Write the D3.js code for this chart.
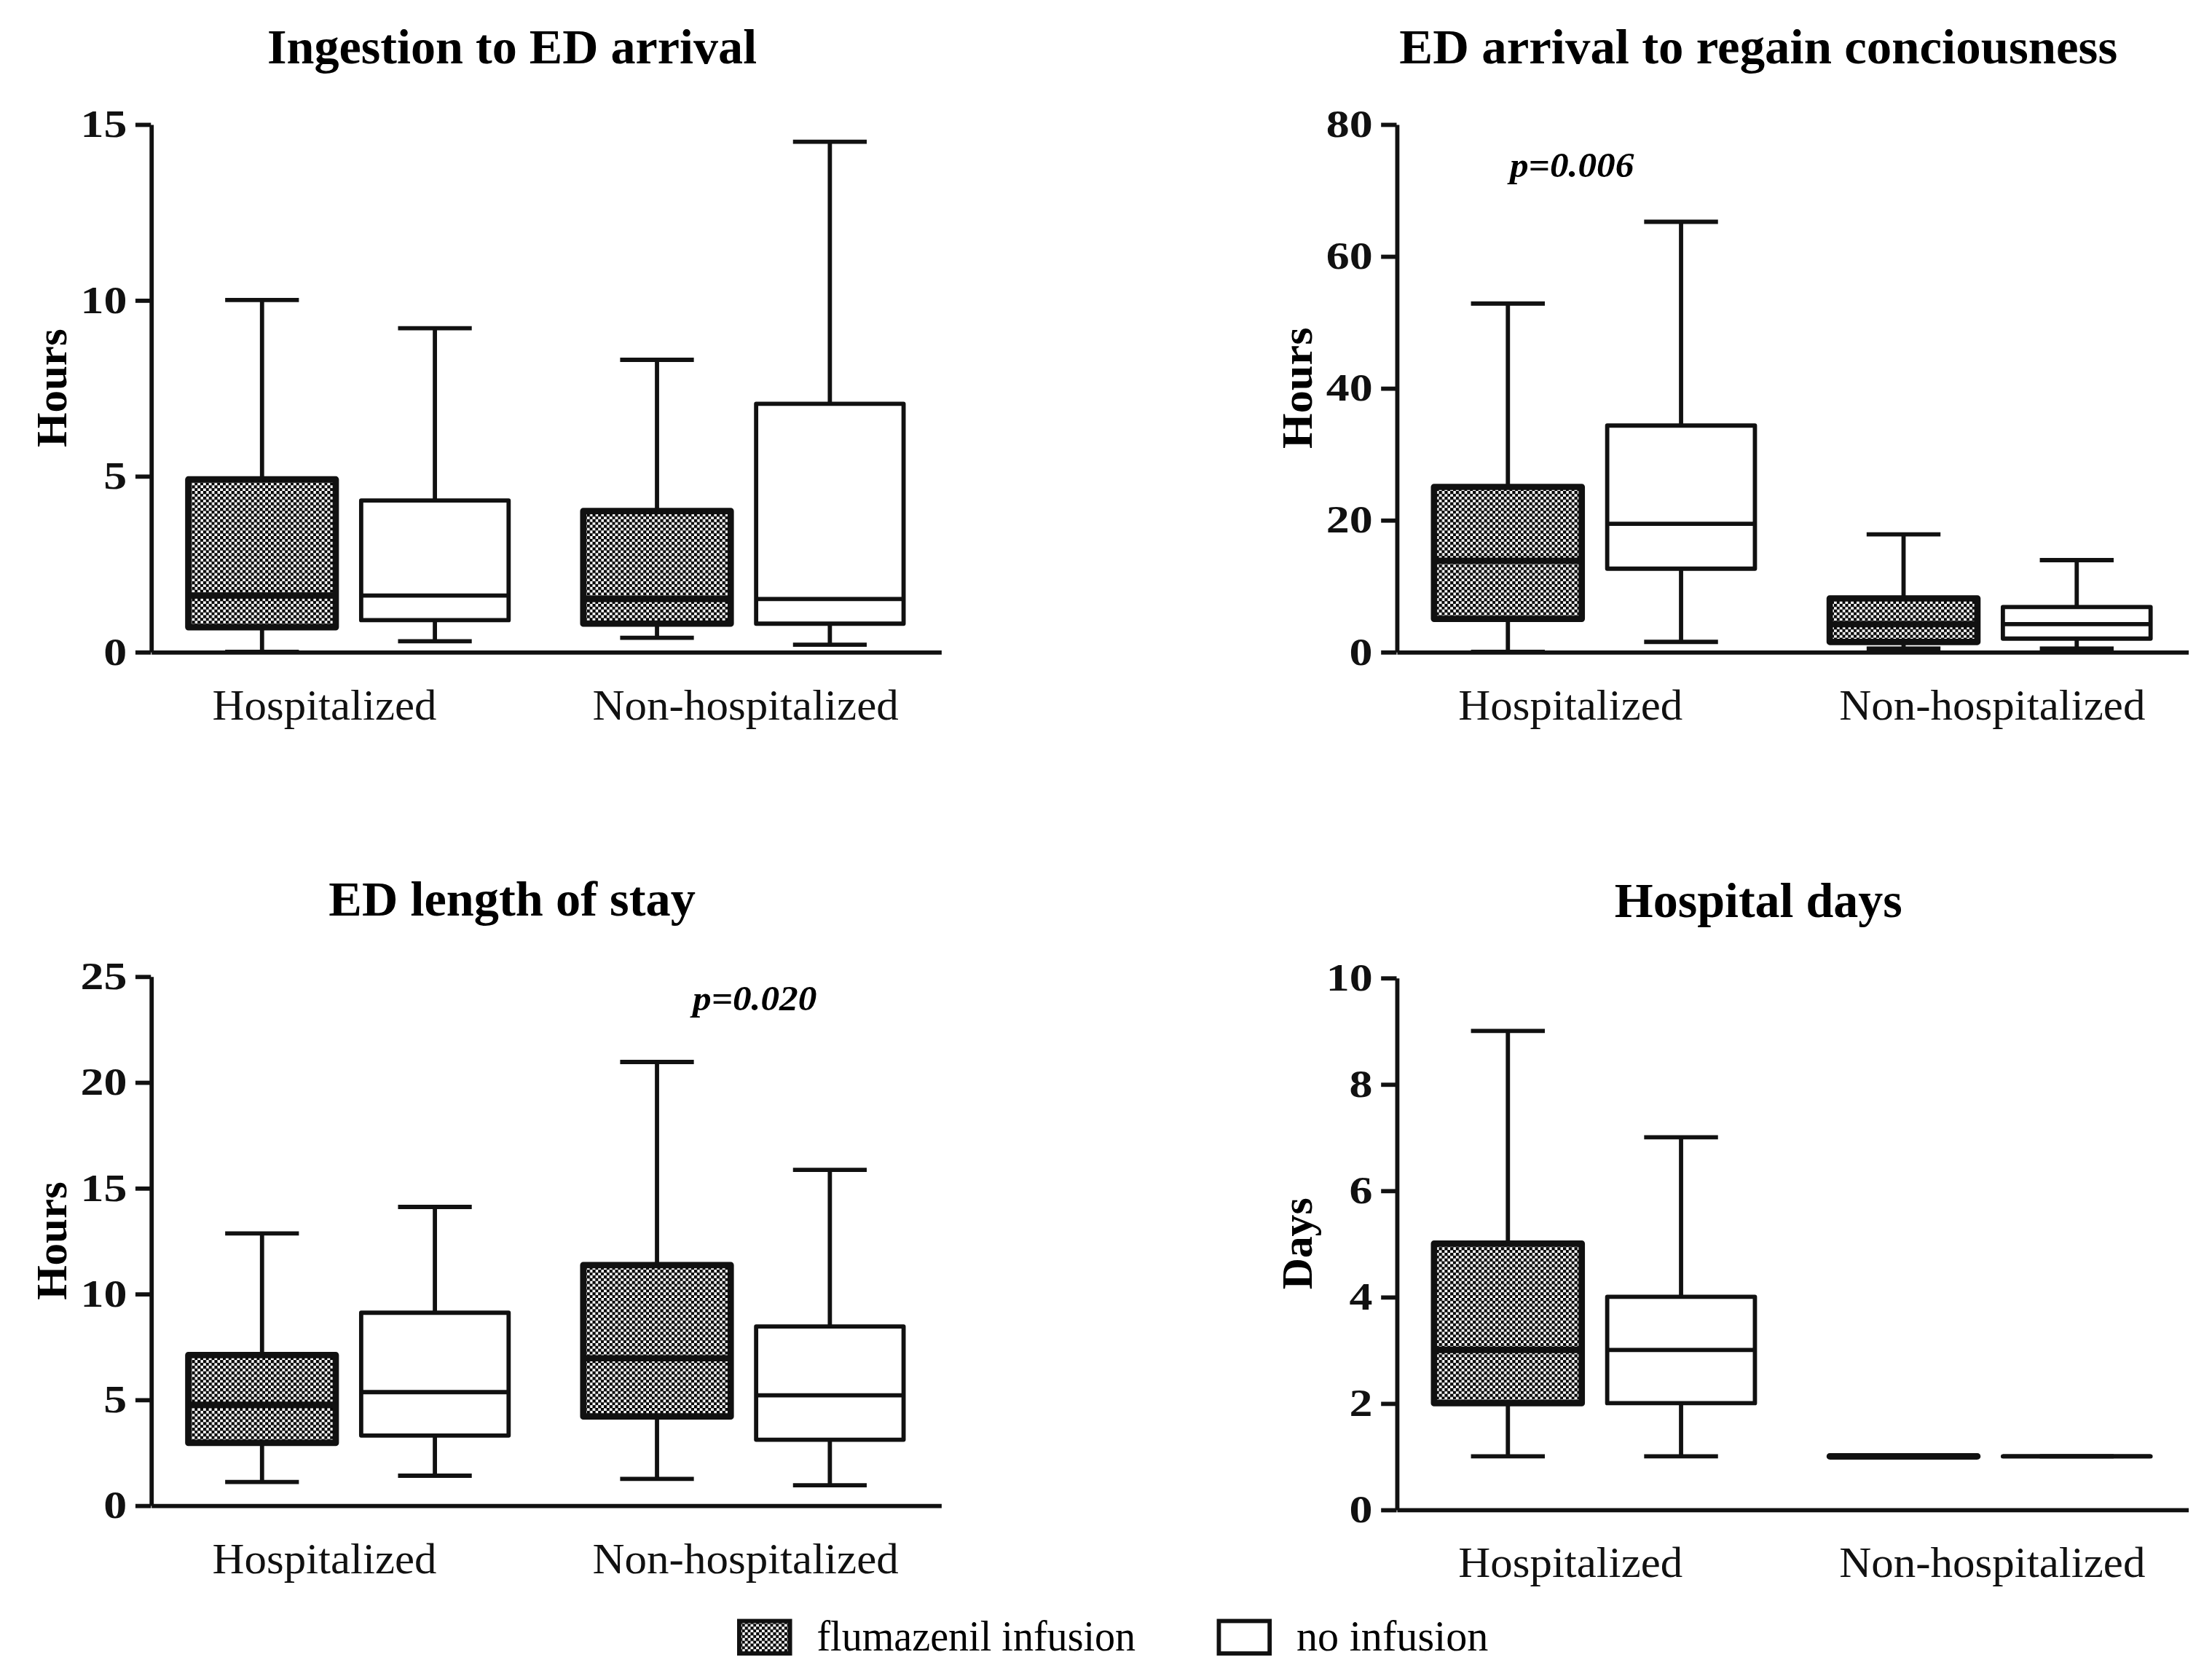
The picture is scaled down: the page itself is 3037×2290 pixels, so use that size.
<!DOCTYPE html>
<html>
<head>
<meta charset="utf-8">
<script src="https://cdn.jsdelivr.net/npm/d3@7"></script>
<style>
  body { margin: 0; background: #fff; }
  svg { display: block; }
</style>
</head>
<body>
<svg id="fig"></svg>
<script>
// categories / series
var groups = ['Hospitalized', 'Non-hospitalized'];
var series = ['flumazenil infusion', 'no infusion'];

// panel text
var titles = ['Ingestion to ED arrival', 'ED arrival to regain conciousness', 'ED length of stay', 'Hospital days'];
var yLabels = ['Hours', 'Hours', 'Hours', 'Days'];
var yMax = [15, 80, 25, 10];
var yTicks = [[0, 5, 10, 15], [0, 20, 40, 60, 80], [0, 5, 10, 15, 20, 25], [0, 2, 4, 6, 8, 10]];

// box stats: [min, q1, median, q3, max], order H-flum, H-none, NH-flum, NH-none
var ingestion = [[0, 0.7, 1.6, 4.9, 10], [0.3, 0.9, 1.6, 4.3, 9.2], [0.4, 0.8, 1.5, 4.0, 8.3], [0.2, 0.8, 1.5, 7.05, 14.5]];
var regain = [[0, 5, 13.8, 25, 52.8], [1.5, 12.6, 19.4, 34.3, 65.2], [0.5, 1.5, 4.2, 8.1, 17.8], [0.5, 2, 4.2, 6.8, 13.9]];
var edStay = [[1.1, 2.95, 4.75, 7.1, 12.85], [1.4, 3.3, 5.35, 9.1, 14.1], [1.25, 4.2, 6.95, 11.35, 20.95], [0.95, 3.1, 5.2, 8.45, 15.85]];
var hospDays = [[1, 2, 3, 5, 9], [1, 2, 3, 4, 7], [1, 1, 1, 1, 1], [1, 1, 1, 1, 1]];
var allStats = [ingestion, regain, edStay, hospDays];

// p-value annotations: text, group, height in data units
var pText = [null, 'p=0.006', 'p=0.020', null];
var pGroup = [null, 'Hospitalized', 'Non-hospitalized', null];
var pAt = [null, 72, 23.4, null];

var W = 1568, H = 1182.3;
var serif = '"Liberation Serif", "Times New Roman", serif';

var svg = d3.select('#fig')
    .attr('width', 3037)
    .attr('height', 2290)
    .attr('viewBox', '0 0 ' + W + ' ' + H);

// checker fill for flumazenil boxes
var pat = svg.append('defs').append('pattern')
    .attr('id', 'checker')
    .attr('width', 4).attr('height', 4)
    .attr('patternUnits', 'userSpaceOnUse');
pat.append('rect').attr('width', 4).attr('height', 4).attr('fill', '#fff');
pat.append('rect').attr('width', 2.2).attr('height', 2.2).attr('fill', '#000');
pat.append('rect').attr('x', 2).attr('y', 2).attr('width', 2.2).attr('height', 2.2).attr('fill', '#000');

// axis frames for the four panels
var frames = [
    {left: 107, right: 667, top: 88, bottom: 462},
    {left: 990, right: 1551, top: 88, bottom: 462},
    {left: 107, right: 667, top: 692, bottom: 1067},
    {left: 990, right: 1551, top: 693, bottom: 1070}
];

var titleLen = [347, 509, 260, 204];
var yLabLen = [84, 86, 84, 65];
var groupLabLen = [159, 217];
var labelNudge = [-17, 1.5];

frames.forEach(function(f, pi) {
    var g = svg.append('g');
    var stats = allStats[pi];

    var ys = d3.scaleLinear().domain([0, yMax[pi]]).range([f.bottom, f.top]);
    var x0 = d3.scaleBand().domain(groups).range([f.left, f.right])
        .paddingInner(0.189).paddingOuter(0.0946);
    var x1 = d3.scaleBand().domain(series).range([0, x0.bandwidth()])
        .paddingInner(0.147).paddingOuter(0);
    var bw = x1.bandwidth();

    var boxes = stats.map(function(s, i) {
        return {grp: groups[Math.floor(i / 2)], ser: series[i % 2], s: s};
    });
    var bx = function(d) { return x0(d.grp) + x1(d.ser); };
    var cx = function(d) { return bx(d) + bw / 2; };

    // whiskers
    g.selectAll('.whi')
        .data(boxes)
        .enter()
        .append('path')
        .attr('d', function(d) {
            return 'M' + cx(d) + ',' + ys(d.s[3]) + 'V' + ys(d.s[4]) +
                'M' + cx(d) + ',' + ys(d.s[1]) + 'V' + ys(d.s[0]) +
                'M' + (cx(d) - bw / 4) + ',' + ys(d.s[4]) + 'H' + (cx(d) + bw / 4) +
                'M' + (cx(d) - bw / 4) + ',' + ys(d.s[0]) + 'H' + (cx(d) + bw / 4);
        })
        .attr('fill', 'none')
        .attr('stroke', '#111')
        .attr('stroke-width', 3);

    // boxes (paths so zero-height boxes still draw)
    g.selectAll('.box')
        .data(boxes)
        .enter()
        .append('path')
        .attr('d', function(d) {
            return 'M' + bx(d) + ',' + ys(d.s[3]) + 'H' + (bx(d) + bw) +
                'V' + ys(d.s[1]) + 'H' + bx(d) + 'Z';
        })
        .attr('fill', function(d) { return d.ser === series[0] ? 'url(#checker)' : '#fff'; })
        .attr('stroke', '#111')
        .attr('stroke-linejoin', 'round')
        .attr('stroke-width', function(d) { return d.ser === series[0] ? 4.5 : 3; });

    // medians
    g.selectAll('.med')
        .data(boxes)
        .enter()
        .append('line')
        .attr('x1', bx)
        .attr('x2', function(d) { return bx(d) + bw; })
        .attr('y1', function(d) { return ys(d.s[2]); })
        .attr('y2', function(d) { return ys(d.s[2]); })
        .attr('stroke', '#111')
        .attr('stroke-width', function(d) { return d.ser === series[0] ? 4.5 : 3; });

    // y axis
    var ya = g.append('g')
        .attr('transform', 'translate(' + f.left + ',0)')
        .call(d3.axisLeft(ys).tickValues(yTicks[pi]).tickSize(11).tickSizeOuter(0).tickPadding(6));
    ya.selectAll('path, line').attr('stroke', '#111').attr('stroke-width', 3);
    ya.selectAll('text')
        .attr('fill', '#111')
        .style('font', 'bold 27px ' + serif)
        .attr('textLength', function(d) { return String(d).length * 16.5; })
        .attr('lengthAdjust', 'spacingAndGlyphs');

    // x axis (no ticks)
    var xa = g.append('g')
        .attr('transform', 'translate(0,' + f.bottom + ')')
        .call(d3.axisBottom(x0).tickSize(0).tickSizeOuter(0).tickPadding(0));
    xa.select('.domain').attr('stroke', '#111').attr('stroke-width', 3);
    xa.selectAll('text')
        .attr('fill', '#111')
        .attr('dy', null)
        .attr('y', 48)
        .attr('dx', function(d, i) { return labelNudge[i]; })
        .style('font', '31px ' + serif)
        .attr('textLength', function(d, i) { return groupLabLen[i]; })
        .attr('lengthAdjust', 'spacingAndGlyphs');

    // y label
    g.append('text')
        .attr('transform', 'translate(' + (f.left - 60) + ',' + ((f.top + f.bottom) / 2) + ') rotate(-90)')
        .attr('text-anchor', 'middle')
        .style('font', 'bold 31px ' + serif)
        .attr('textLength', yLabLen[pi])
        .attr('lengthAdjust', 'spacingAndGlyphs')
        .text(yLabels[pi]);

    // title
    g.append('text')
        .attr('x', (f.left + f.right) / 2 - 24)
        .attr('y', f.top - 43)
        .attr('text-anchor', 'middle')
        .style('font', 'bold 35px ' + serif)
        .attr('textLength', titleLen[pi])
        .attr('lengthAdjust', 'spacingAndGlyphs')
        .text(titles[pi]);

    // p value
    if (pText[pi]) {
        g.append('text')
            .attr('x', x0(pGroup[pi]) + x0.bandwidth() / 2 + (pi === 1 ? -16 : 8))
            .attr('y', ys(pAt[pi]))
            .attr('text-anchor', 'middle')
            .style('font', 'italic bold 25px ' + serif)
            .attr('textLength', 88)
            .attr('lengthAdjust', 'spacingAndGlyphs')
            .text(pText[pi]);
    }
});

// Legend
var legX = [524, 864];
var legLen = [226, 136];
var leg = svg.append('g')
    .selectAll('g')
    .data(series)
    .enter()
    .append('g')
    .attr('transform', function(d, i) { return 'translate(' + legX[i] + ',1149)'; });

leg.append('rect')
    .attr('width', 36)
    .attr('height', 23)
    .attr('fill', function(d, i) { return i === 0 ? 'url(#checker)' : '#fff'; })
    .attr('stroke', '#111')
    .attr('stroke-width', 3);

leg.append('text')
    .attr('x', 55)
    .attr('y', 21)
    .style('font', '30px ' + serif)
    .attr('textLength', function(d, i) { return legLen[i]; })
    .attr('lengthAdjust', 'spacingAndGlyphs')
    .text(function(d) { return d; });
</script>
</body>
</html>
